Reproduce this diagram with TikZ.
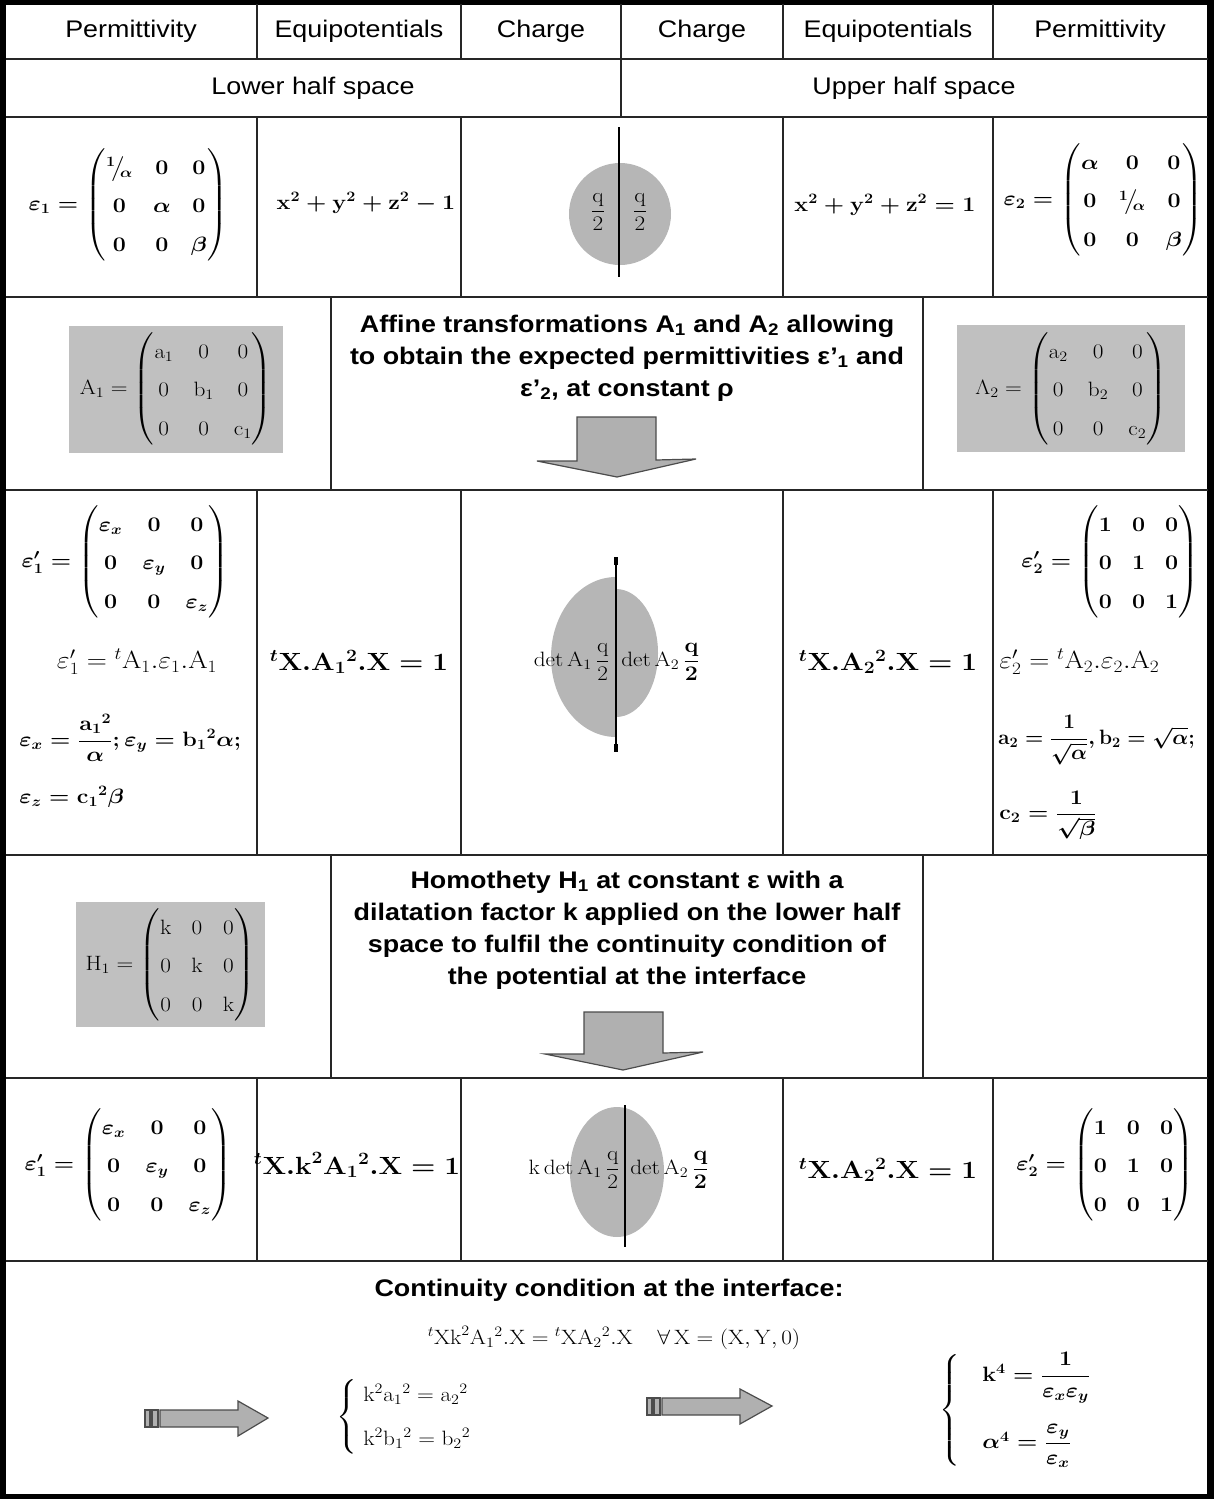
\documentclass[tikz,border=0pt]{standalone}
\usepackage{amsmath}
\usepackage[no-math]{fontspec}
\setmainfont{Liberation Sans}
\usetikzlibrary{calc}

\definecolor{matgray}{RGB}{192,192,192}
\definecolor{chggray}{RGB}{182,182,182}
\definecolor{arrgray}{RGB}{176,176,176}
\renewcommand{\arraystretch}{1.6}
\setlength{\arraycolsep}{9pt}

\tikzset{
    every node/.append style={xscale=1.12},
    rule/.style={line width=2, draw=black!85},
    hdtext/.style={font=\fontsize{24}{28}\selectfont},
    bdtext/.style={font=\bfseries\fontsize{24}{32}\selectfont, align=center},
    eqn/.style={font=\fontsize{20}{24}\selectfont, inner sep=1pt},
    beqn/.style={font=\fontsize{20}{24}\selectfont\boldmath, inner sep=1pt},
    bigeqn/.style={font=\fontsize{24}{28}\selectfont\boldmath, inner sep=1pt},
    blockarrow/.style={fill=arrgray, draw=black!70, line width=1.2},
}

\begin{document}
\begin{tikzpicture}[x=1pt,y=-1pt]
    \useasboundingbox (0,0) rectangle (1213,1499);

    % 罫線の座標
    \pgfmathsetmacro{\xl}{6}
    \pgfmathsetmacro{\xr}{1208}
    \pgfmathsetmacro{\cA}{257}
    \pgfmathsetmacro{\cB}{461}
    \pgfmathsetmacro{\cC}{621}
    \pgfmathsetmacro{\cD}{783}
    \pgfmathsetmacro{\cE}{993}
    \pgfmathsetmacro{\cL}{331}
    \pgfmathsetmacro{\cR}{923}
    \pgfmathsetmacro{\rT}{4}
    \pgfmathsetmacro{\rA}{59}
    \pgfmathsetmacro{\rB}{117}
    \pgfmathsetmacro{\rC}{297}
    \pgfmathsetmacro{\rD}{490}
    \pgfmathsetmacro{\rE}{855}
    \pgfmathsetmacro{\rF}{1078}
    \pgfmathsetmacro{\rG}{1261}

    % 灰色の部分
    \fill[matgray] (69,326) rectangle (283,453);
    \fill[matgray] (957,325) rectangle (1185,452);
    \fill[matgray] (76,902) rectangle (265,1027);
    \fill[chggray] (620,214) circle [radius=51];
    \fill[chggray] (616,577) -- (616,737) arc[start angle=90, end angle=270, x radius=65, y radius=80] -- cycle;
    \fill[chggray] (616,717) arc[start angle=90, end angle=-90, x radius=42, y radius=64] -- cycle;
    \fill[chggray] (617,1172) ellipse [x radius=47, y radius=65];

    % 罫線の描画
    \draw[line width=8] (2,1) rectangle (1211,1498);
    \draw[rule] (\xl,\rA) -- (\xr,\rA);
    \draw[rule] (\xl,\rB) -- (\xr,\rB);
    \draw[rule] (\xl,\rC) -- (\xr,\rC);
    \draw[rule] (\xl,\rD) -- (\xr,\rD);
    \draw[rule] (\xl,\rE) -- (\xr,\rE);
    \draw[rule] (\xl,\rF) -- (\xr,\rF);
    \draw[rule] (\xl,\rG) -- (\xr,\rG);
    \draw[rule] (\cA,\rT) -- (\cA,\rA) (\cA,\rB) -- (\cA,\rC) (\cA,\rD) -- (\cA,\rE) (\cA,\rF) -- (\cA,\rG);
    \draw[rule] (\cB,\rT) -- (\cB,\rA) (\cB,\rB) -- (\cB,\rC) (\cB,\rD) -- (\cB,\rE) (\cB,\rF) -- (\cB,\rG);
    \draw[rule] (\cC,\rT) -- (\cC,\rB);
    \draw[rule] (\cD,\rT) -- (\cD,\rA) (\cD,\rB) -- (\cD,\rC) (\cD,\rD) -- (\cD,\rE) (\cD,\rF) -- (\cD,\rG);
    \draw[rule] (\cE,\rT) -- (\cE,\rA) (\cE,\rB) -- (\cE,\rC) (\cE,\rD) -- (\cE,\rE) (\cE,\rF) -- (\cE,\rG);
    \draw[rule] (\cL,\rC) -- (\cL,\rD) (\cL,\rE) -- (\cL,\rF);
    \draw[rule] (\cR,\rC) -- (\cR,\rD) (\cR,\rE) -- (\cR,\rF);

    % 電荷の仕切り
    \draw[line width=2] (619,127) -- (619,277);
    \draw[line width=2] (616,557) -- (616,752);
    \draw[line width=4] (616,557) -- (616,565) (616,744) -- (616,752);
    \draw[line width=2] (625,1105) -- (625,1247);

    % 見出し
    \node[hdtext] (hPermA) at (131,31) {Permittivity};
    \node[hdtext] (hEquiA) at (359,31) {Equipotentials};
    \node[hdtext] (hChgA) at (541,31) {Charge};
    \node[hdtext] (hChgB) at (702,31) {Charge};
    \node[hdtext] (hEquiB) at (888,31) {Equipotentials};
    \node[hdtext] (hPermB) at (1100,31) {Permittivity};
    \node[hdtext] (hLower) at (313,88) {Lower half space};
    \node[hdtext] (hUpper) at (914,88) {Upper half space};

    % 第3段
    \node[beqn] (epsA) at (128,205) {$\varepsilon_1=\begin{pmatrix}{}^{1}\!\big/\!{}_{\alpha}&0&0\\0&\alpha&0\\0&0&\beta\end{pmatrix}$};
    \node[beqn] (equiA) at (366,203) {$\mathrm{x}^2+\mathrm{y}^2+\mathrm{z}^2-1$};
    \node[eqn] (qA) at (598,212) {$\dfrac{\mathrm{q}}{2}$};
    \node[eqn] (qB) at (640,212) {$\dfrac{\mathrm{q}}{2}$};
    \node[beqn] (equiB) at (885,205) {$\mathrm{x}^2+\mathrm{y}^2+\mathrm{z}^2=1$};
    \node[beqn] (epsB) at (1103,200) {$\varepsilon_2=\begin{pmatrix}\alpha&0&0\\0&{}^{1}\!\big/\!{}_{\alpha}&0\\0&0&\beta\end{pmatrix}$};

    % 第4段
    \node[eqn] (matA) at (176,389) {$\mathrm{A}_1=\begin{pmatrix}\mathrm{a}_1&0&0\\0&\mathrm{b}_1&0\\0&0&\mathrm{c}_1\end{pmatrix}$};
    \node[bdtext] (txtAff) at (627,358) {Affine transformations A\textsubscript{1} and A\textsubscript{2} allowing\\to obtain the expected permittivities ε{\char"27}\textsubscript{1} and\\ε{\char"27}\textsubscript{2}, at constant ρ};
    \draw[blockarrow] (577,417) -- (656,417) -- (656,460) -- (696,459) -- (617,477) -- (537,461) -- (577,461) -- cycle;
    \node[eqn] (matB) at (1071,389) {$\Lambda_2=\begin{pmatrix}\mathrm{a}_2&0&0\\0&\mathrm{b}_2&0\\0&0&\mathrm{c}_2\end{pmatrix}$};

    % 第5段
    \node[beqn] (epsC) at (125,562) {$\varepsilon'_1=\begin{pmatrix}\varepsilon_x&0&0\\0&\varepsilon_y&0\\0&0&\varepsilon_z\end{pmatrix}$};
    \node[eqn, font=\fontsize{24}{28}\selectfont] (relA) at (137,662) {$\varepsilon'_1={}^{t}\mathrm{A}_1.\varepsilon_1.\mathrm{A}_1$};
    \node[beqn, anchor=west] (cmpA) at (18,738) {$\varepsilon_x=\dfrac{\mathrm{a}_1{}^{2}}{\alpha};\varepsilon_y=\mathrm{b}_1{}^{2}\alpha;$};
    \node[beqn, anchor=west] (cmpB) at (18,797) {$\varepsilon_z=\mathrm{c}_1{}^{2}\beta$};
    \node[bigeqn] (equiC) at (359,662) {${}^{t}\mathrm{X.A}_1{}^{2}.\mathrm{X}=1$};
    \node[eqn, anchor=east] (chgA) at (611,662) {$\det\mathrm{A}_1\,\dfrac{\mathrm{q}}{2}$};
    \node[eqn, anchor=west] (chgB) at (620,662) {$\det\mathrm{A}_2\,\dfrac{\mathbf{q}}{\mathbf{2}}$};
    \node[bigeqn] (equiD) at (888,662) {${}^{t}\mathrm{X.A}_2{}^{2}.\mathrm{X}=1$};
    \node[beqn, anchor=east] (epsD) at (1200,562) {$\varepsilon'_2=\begin{pmatrix}1&0&0\\0&1&0\\0&0&1\end{pmatrix}$};
    \node[eqn, anchor=west, font=\fontsize{24}{28}\selectfont] (relB) at (998,662) {$\varepsilon'_2={}^{t}\mathrm{A}_2.\varepsilon_2.\mathrm{A}_2$};
    \node[beqn, anchor=west, xscale=0.9] (cmpC) at (997,740) {$\mathrm{a}_2=\dfrac{1}{\sqrt{\alpha}},\mathrm{b}_2=\sqrt{\alpha};$};
    \node[beqn, anchor=west] (cmpD) at (998,815) {$\mathrm{c}_2=\dfrac{1}{\sqrt{\beta}}$};

    % 第6段
    \node[eqn] (matH) at (170,965) {$\mathrm{H}_1=\begin{pmatrix}\mathrm{k}&0&0\\0&\mathrm{k}&0\\0&0&\mathrm{k}\end{pmatrix}$};
    \node[bdtext] (txtHom) at (627,930) {Homothety H\textsubscript{1} at constant ε with a\\dilatation factor k applied on the lower half\\space to fulfil the continuity condition of\\the potential at the interface};
    \draw[blockarrow] (584,1012) -- (663,1012) -- (663,1053) -- (703,1052) -- (623,1070) -- (545,1054) -- (584,1054) -- cycle;

    % 第7段
    \node[beqn] (epsE) at (128,1165) {$\varepsilon'_1=\begin{pmatrix}\varepsilon_x&0&0\\0&\varepsilon_y&0\\0&0&\varepsilon_z\end{pmatrix}$};
    \node[bigeqn] (equiE) at (357,1165) {${}^{t}\mathrm{X.k}^2\mathrm{A}_1{}^{2}.\mathrm{X}=1$};
    \node[eqn, anchor=east] (chgC) at (621,1170) {$\mathrm{k}\det\mathrm{A}_1\,\dfrac{\mathrm{q}}{2}$};
    \node[eqn, anchor=west] (chgD) at (629,1170) {$\det\mathrm{A}_2\,\dfrac{\mathbf{q}}{\mathbf{2}}$};
    \node[bigeqn] (equiF) at (888,1170) {${}^{t}\mathrm{X.A}_2{}^{2}.\mathrm{X}=1$};
    \node[beqn] (epsF) at (1105,1165) {$\varepsilon'_2=\begin{pmatrix}1&0&0\\0&1&0\\0&0&1\end{pmatrix}$};

    % 第8段
    \node[bdtext] (txtCont) at (609,1290) {Continuity condition at the interface:};
    \node[eqn, font=\fontsize{22}{26}\selectfont] (eqCont) at (614,1338) {${}^{t}\mathrm{Xk}^2\mathrm{A}_1{}^{2}.\mathrm{X}={}^{t}\mathrm{XA}_2{}^{2}.\mathrm{X}\quad\forall\,\mathrm{X}=(\mathrm{X},\mathrm{Y},0)$};
    \draw[blockarrow] (145,1410) rectangle (150,1427) (152,1410) rectangle (158,1427);
    \draw[blockarrow] (160,1410) -- (238,1410) -- (238,1401) -- (268,1418) -- (238,1436) -- (238,1427) -- (160,1427) -- cycle;
    \node[eqn, anchor=west, font=\fontsize{21}{25}\selectfont] (sysA) at (335,1417) {$\begin{cases}\;\mathrm{k}^2\mathrm{a}_1{}^{2}=\mathrm{a}_2{}^{2}\\[14pt] \;\mathrm{k}^2\mathrm{b}_1{}^{2}=\mathrm{b}_2{}^{2}\end{cases}$};
    \draw[blockarrow] (647,1398) rectangle (652,1415) (654,1398) rectangle (660,1415);
    \draw[blockarrow] (662,1398) -- (740,1398) -- (740,1389) -- (772,1406) -- (740,1424) -- (740,1415) -- (662,1415) -- cycle;
    \node[beqn, anchor=west] (sysB) at (938,1410) {$\begin{cases}\quad\mathrm{k}^4=\dfrac{1}{\varepsilon_x\varepsilon_y}\\[34pt] \quad\alpha^4=\dfrac{\varepsilon_y}{\varepsilon_x}\end{cases}$};

\end{tikzpicture}
\end{document}
